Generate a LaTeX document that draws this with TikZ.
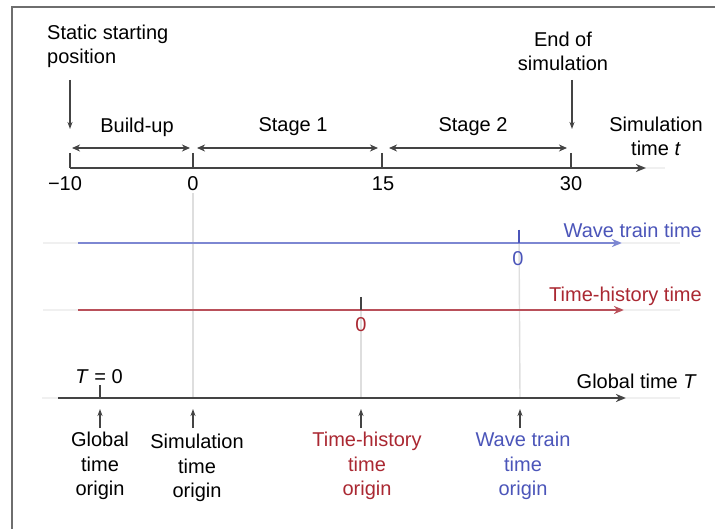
\documentclass[tikz,border=0pt]{standalone}
\usepackage{fontspec}
\setmainfont{Liberation Sans}
\usetikzlibrary{arrows.meta}
\definecolor{axgray}{RGB}{68,68,68}
\definecolor{frame}{RGB}{110,110,110}
\definecolor{guide}{RGB}{222,222,222}
\definecolor{faint}{RGB}{240,240,240}
\definecolor{wblue}{RGB}{75,85,185}
\definecolor{wbline}{RGB}{125,135,210}
\definecolor{hred}{RGB}{170,40,50}
\definecolor{hrline}{RGB}{185,80,90}
\tikzset{
  lbl/.style={font=\fontsize{20}{24}\selectfont, inner sep=0pt, align=center},
  axis/.style={line width=1.8pt, draw=axgray, -{Stealth[length=10pt,width=8pt,inset=3pt]}},
  tick/.style={line width=1.4pt, draw=axgray},
  guideline/.style={line width=1.4pt, draw=guide},
  ext/.style={line width=1.8pt, draw=faint},
  dbl/.style={line width=1.3pt, draw=axgray, {Stealth[length=8pt,width=7pt,inset=2.5pt]}-{Stealth[length=8pt,width=7pt,inset=2.5pt]}},
  pointer/.style={line width=1.2pt, draw=axgray, -{Stealth[length=7pt,width=5pt,inset=2pt]}},
}
\begin{document}
\begin{tikzpicture}[x=1pt,y=-1pt]
\useasboundingbox (0,0) rectangle (715,529);
% frame
\draw[frame, line width=2pt] (12,529) -- (12,7) -- (715,7);

% coordinates
\coordinate (s0) at (70,168);
\coordinate (sZ) at (193,168);
\coordinate (s15) at (382,168);
\coordinate (s30) at (571,168);
\coordinate (sEnd) at (646,168);

\coordinate (w0) at (78,243);
\coordinate (wT) at (519,243);
\coordinate (wEnd) at (622,243);

\coordinate (h0) at (78,310);
\coordinate (hT) at (361,310);
\coordinate (hEnd) at (624,310);

\coordinate (g0) at (58,398);
\coordinate (gT) at (100,398);
\coordinate (gS) at (193,398);
\coordinate (gH) at (361,398);
\coordinate (gW) at (520,398);
\coordinate (gEnd) at (626,398);

% guide lines
\coordinate (gs0) at (193,193);
\draw[guideline] (gs0) -- (gS);
\draw[guideline] (519,230) -- (gW);
\draw[guideline] (361,297) -- (gH);

% faint extensions
\draw[ext] (s30) -- (665,168);
\draw[ext] (43,243) -- (w0);
\draw[ext] (wEnd) -- (680,243);
\draw[ext] (43,310) -- (h0);
\draw[ext] (hEnd) -- (680,310);
\draw[ext] (42,398) -- (g0);
\draw[ext] (gEnd) -- (680,398);

% simulation time axis
\draw[axis] (s0) -- (sEnd);
\draw[line width=2.6pt, axgray] (s30) -- (614,168);
\draw[tick] (70,153) -- (s0);
\draw[tick] (193,153) -- (sZ);
\draw[tick] (382,153) -- (s15);
\draw[tick] (571,153) -- (s30);
\node[lbl] (n10) at (65,184) {−10};
\node[lbl] (n0) at (193,184) {0};
\node[lbl] (n15) at (383,184) {15};
\node[lbl] (n30) at (571,184) {30};

\coordinate (b1) at (72,148); \coordinate (b2) at (190,148);
\coordinate (c1) at (197,148); \coordinate (c2) at (378,148);
\coordinate (d1) at (389,148); \coordinate (d2) at (567,148);
\draw[dbl] (b1) -- (b2);
\draw[dbl] (c1) -- (c2);
\draw[dbl] (d1) -- (d2);
\node[lbl] (bu) at (137,127) {Build-up};
\node[lbl] (st1) at (293,127) {Stage 1};
\node[lbl] (st2) at (473,127) {Stage 2};

\node[lbl, align=left, anchor=west] (ssp) at (47,46) {Static starting\\position};
\node[lbl] (eos) at (563,51) {End of\\simulation};
\coordinate (ssA) at (70,80); \coordinate (ssB) at (70,129);
\coordinate (eoA) at (572,80); \coordinate (eoB) at (572,129);
\draw[pointer] (ssA) -- (ssB);
\draw[pointer] (eoA) -- (eoB);
\node[lbl] (simt) at (656,136) {Simulation\\time \textit{t}};

% wave train axis
\draw[axis, draw=wbline, -{Stealth[length=10pt,width=8pt,inset=3pt,fill=wblue]}] (w0) -- (wEnd);
\draw[line width=2.6pt, wbline] (572,243) -- (612,243);
\draw[tick, draw=wblue] (519,230) -- (wT);
\node[lbl, text=wblue] (wz) at (518,259) {0};
\node[lbl, text=wblue, anchor=east] (wtt) at (702,230) {Wave train time};

% time-history axis
\draw[axis, draw=hrline, -{Stealth[length=10pt,width=8pt,inset=3pt,fill=hred]}] (h0) -- (hEnd);
\draw[line width=2.6pt, hrline] (575,310) -- (614,310);
\draw[tick] (361,297) -- (hT);
\node[lbl, text=hred] (hz) at (361,325) {0};
\node[lbl, text=hred, anchor=east] (htt) at (702,296) {Time-history time};

% global axis
\draw[axis] (g0) -- (gEnd);
\draw[line width=2.6pt, axgray] (578,398) -- (616,398);
\draw[tick] (100,385) -- (gT);
\node[lbl] (Tz) at (99,377) {\textit{T} = 0};
\node[lbl, anchor=east] (gtt) at (697,381) {Global time \textit{T}};

% origins
\coordinate (uaT) at (100,428); \coordinate (ubT) at (100,409);
\coordinate (uaS) at (193,428); \coordinate (ubS) at (193,409);
\coordinate (uaH) at (361,428); \coordinate (ubH) at (361,409);
\coordinate (uaW) at (520,428); \coordinate (ubW) at (520,409);
\draw[pointer] (uaT) -- (ubT);
\draw[pointer] (uaS) -- (ubS);
\draw[pointer] (uaH) -- (ubH);
\draw[pointer] (uaW) -- (ubW);
\node[lbl, font=\fontsize{20}{24.5}\selectfont] (go) at (100,466) {Global\\time\\origin};
\node[lbl, font=\fontsize{20}{24.5}\selectfont] (so) at (197,468) {Simulation\\time\\origin};
\node[lbl, font=\fontsize{20}{24.5}\selectfont, text=hred] (ho) at (367,466) {Time-history\\time\\origin};
\node[lbl, font=\fontsize{20}{24.5}\selectfont, text=wblue] (wo) at (523,466) {Wave train\\time\\origin};
\end{tikzpicture}
\end{document}
